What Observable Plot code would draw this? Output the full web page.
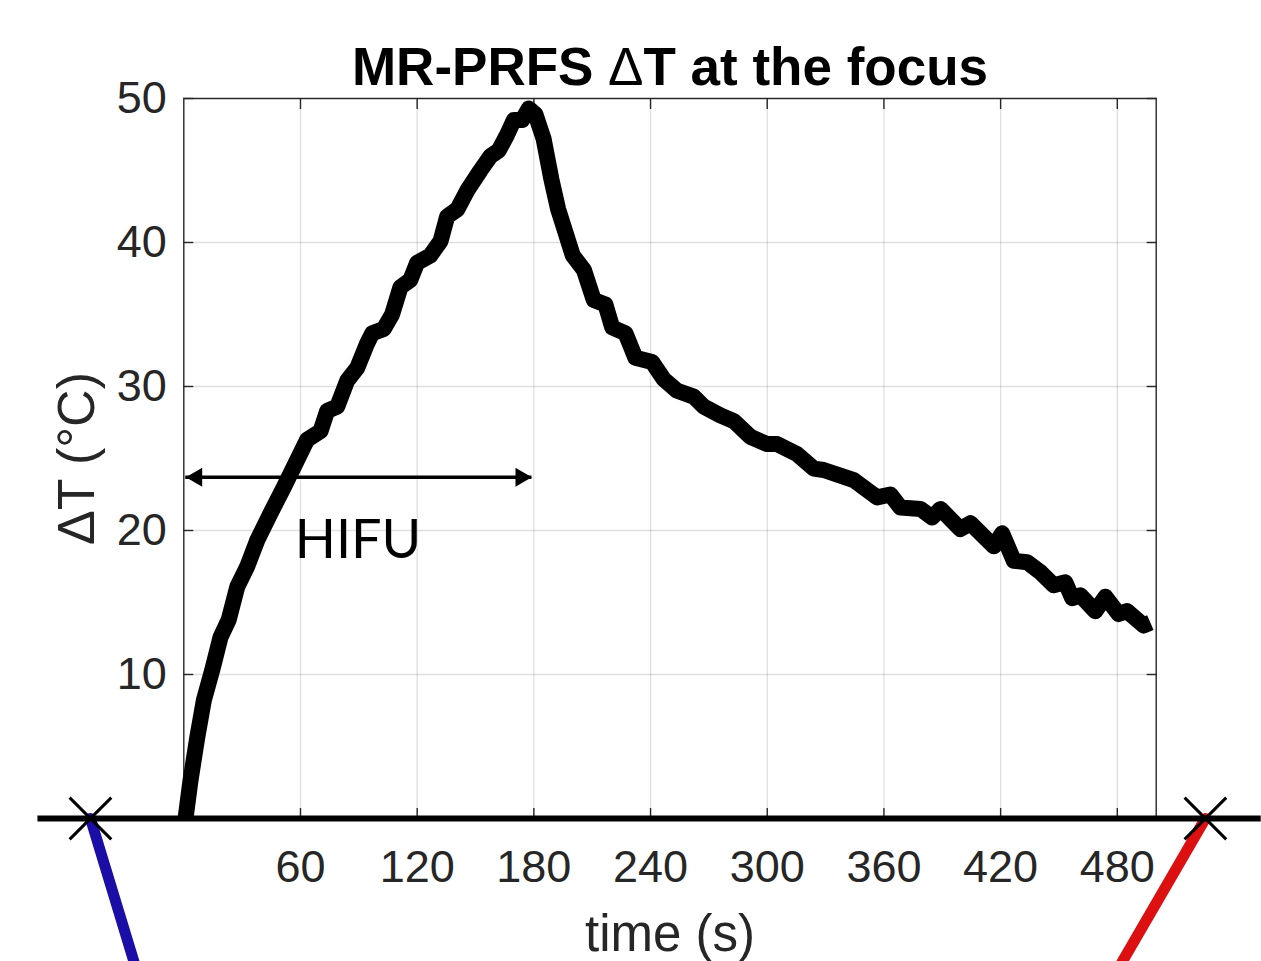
<!DOCTYPE html>
<html>
<head>
<meta charset="utf-8">
<script src="https://cdn.jsdelivr.net/npm/d3@7"></script>
<script src="https://cdn.jsdelivr.net/npm/@observablehq/plot@0.6"></script>
<style>
  html, body { margin: 0; padding: 0; background: #fff; overflow: hidden; }
  #chart svg { display: block; }
</style>
</head>
<body>
<div id="chart"></div>
<script>
// ---- data ----
const time = [0.9, 3.4, 6.9, 10.3, 14.6, 18.9, 23.1, 27.5, 32.6, 37.7, 44.6, 51.4, 58.3, 63.4, 70.3, 73.7, 78.9,
  84.0, 89.2, 94.3, 96.9, 102.8, 107.1, 111.4, 116.5, 120.0, 126.8, 132.0, 135.4, 140.6, 145.7, 152.5, 157.7,
  162.0, 166.3, 169.7, 174.0, 177.4, 180.8, 185.0, 189.0, 192.5, 196.5, 200.0, 205.7, 210.8, 216.8, 220.3,
  227.1, 232.2, 240.8, 246.8, 253.7, 262.2, 267.4, 275.9, 282.8, 291.4, 300.0, 305.1, 315.4, 323.9, 329.0,
  344.5, 356.5, 363.3, 368.5, 378.8, 384.8, 389.1, 399.3, 404.5, 416.5, 420.8, 426.8, 433.6, 440.5, 447.3,
  453.3, 456.8, 461.0, 468.7, 473.9, 480.7, 485.0, 493.6, 497.0];
const deltaT = [0.0, 2.6, 5.6, 8.2, 10.3, 12.6, 13.8, 16.1, 17.5, 19.3, 21.2, 23.0, 24.9, 26.3, 26.9, 28.3, 28.6,
  30.4, 31.3, 33.0, 33.7, 34.0, 35.0, 36.9, 37.4, 38.6, 39.1, 40.1, 41.8, 42.3, 43.6, 45.0, 46.0,
  46.4, 47.5, 48.5, 48.5, 49.3, 48.9, 47.2, 44.4, 42.3, 40.6, 39.1, 38.1, 36.0, 35.7, 34.1,
  33.7, 32.0, 31.7, 30.5, 29.7, 29.3, 28.6, 28.0, 27.6, 26.5, 26.0, 26.0, 25.3, 24.3, 24.2,
  23.5, 22.3, 22.5, 21.6, 21.5, 20.9, 21.5, 20.1, 20.5, 18.9, 19.8, 17.9, 17.8, 17.1, 16.2,
  16.4, 15.3, 15.5, 14.4, 15.4, 14.2, 14.4, 13.4, 13.6];

const xTicks = [60, 120, 180, 240, 300, 360, 420, 480];
const yTicks = [10, 20, 30, 40, 50];
const xDomain = [0, 500];
const yDomain = [0, 50];

const titleText = "MR-PRFS ΔT at the focus";
const xLabel = "time (s)";
const yLabel = "ΔT (°C)";

// HIFU annotation
const hifuSpan = [1, 179];
const hifuLevel = 23.7;
const hifuText = "HIFU";
const hifuTextPos = [57, 18.1];

// decorative connector lines below the plot
const baselineSpan = [-75, 554];
const markerTimes = [-48, 525.3];
const leftLeadT = [-48, -25.5];
const leftLeadDT = [0, -10];
const rightLeadT = [525.3, 482.3];
const rightLeadDT = [0, -10];

const series = time.map((t, i) => ({t, dT: deltaT[i]}));
const axisColor = "#262626";

const chart = Plot.plot({
  width: 1261,
  height: 961,
  marginLeft: 183.3,
  marginRight: 105.3,
  marginTop: 98,
  marginBottom: 143,
  x: {domain: xDomain},
  y: {domain: yDomain},
  style: {fontFamily: "'Liberation Sans', Arial, sans-serif", fontSize: "45px", background: "white"},
  marks: [
    Plot.gridX(xTicks, {stroke: axisColor, strokeOpacity: 0.15, strokeWidth: 1.3}),
    Plot.gridY(yTicks, {stroke: axisColor, strokeOpacity: 0.15, strokeWidth: 1.3}),
    Plot.frame({stroke: axisColor, strokeWidth: 1.4}),
    // tick marks (inward) on all sides
    Plot.axisX(xTicks, {anchor: "top", tickSize: -10, fill: "none", label: null, stroke: axisColor, strokeWidth: 1.4}),
    Plot.axisX(xTicks, {anchor: "bottom", tickSize: -10, fill: "none", label: null, stroke: axisColor, strokeWidth: 1.4}),
    Plot.axisY(yTicks, {anchor: "left", tickSize: -10, fill: "none", label: null, stroke: axisColor, strokeWidth: 1.4}),
    Plot.axisY(yTicks, {anchor: "right", tickSize: -10, fill: "none", label: null, stroke: axisColor, strokeWidth: 1.4}),
    // tick labels
    Plot.axisX(xTicks, {anchor: "bottom", tickSize: 0, tickPadding: 32, fontSize: 45, fill: axisColor, label: null}),
    Plot.axisY(yTicks, {anchor: "left", tickSize: 0, tickPadding: 17, fontSize: 45, fill: axisColor, label: null}),
    // temperature curve
    Plot.line(series, {x: "t", y: "dT", stroke: "black", strokeWidth: 16, strokeLinejoin: "round", strokeLinecap: "butt"}),
    // HIFU double arrow
    Plot.ruleY([hifuLevel], {x1: () => hifuSpan[0], x2: () => hifuSpan[1], stroke: "black", strokeWidth: 3.5}),
    Plot.dot([hifuSpan[0]], {x: d => d, y: () => hifuLevel, symbol: "triangle", rotate: -90, r: 7, fill: "black", stroke: "none", dx: 11}),
    Plot.dot([hifuSpan[1]], {x: d => d, y: () => hifuLevel, symbol: "triangle", rotate: 90, r: 7, fill: "black", stroke: "none", dx: -11}),
    Plot.text([hifuText], {x: () => hifuTextPos[0], y: () => hifuTextPos[1], text: d => d, textAnchor: "start", lineAnchor: "bottom",
      fontFamily: "Lato, 'Open Sans', sans-serif", fontSize: 54, fill: "black"}),
    // connector lines
    Plot.line(leftLeadT, {x: d => d, y: (d, i) => leftLeadDT[i], stroke: "#1a0ea6", strokeWidth: 11}),
    Plot.line(rightLeadT, {x: d => d, y: (d, i) => rightLeadDT[i], stroke: "#dc1010", strokeWidth: 11}),
    Plot.ruleY([0], {x1: () => baselineSpan[0], x2: () => baselineSpan[1], stroke: "black", strokeWidth: 6}),
    Plot.dot(markerTimes, {x: d => d, y: () => 0, symbol: "times", r: 19, stroke: "black", strokeWidth: 3, fill: "none"}),
    // titles
    Plot.text([titleText], {frameAnchor: "top", dy: -14, lineAnchor: "bottom", textAnchor: "middle", text: d => d, fontSize: 53, fontWeight: "bold", fill: "black"}),
    Plot.text([xLabel], {frameAnchor: "bottom", dy: 132, lineAnchor: "bottom", textAnchor: "middle", text: d => d, fontSize: 51, fill: axisColor}),
    Plot.text([yLabel], {frameAnchor: "left", dx: -106, rotate: -90, lineAnchor: "middle", textAnchor: "middle", text: d => d, fontSize: 52, fill: axisColor})
  ]
});

document.getElementById("chart").appendChild(chart);

// render the Δ of the bold title in regular weight, as in the original
d3.select(chart).selectAll("text").each(function () {
  if (this.textContent === titleText) {
    const el = d3.select(this);
    const inner = el.select("tspan");
    if (!inner.empty() && inner.attr("dy")) el.attr("dy", inner.attr("dy"));
    el.text(null);
    const parts = titleText.split("Δ");
    el.append("tspan").text(parts[0]);
    el.append("tspan").attr("font-weight", "normal").text("Δ");
    el.append("tspan").text(parts[1]);
  }
});
</script>
</body>
</html>
